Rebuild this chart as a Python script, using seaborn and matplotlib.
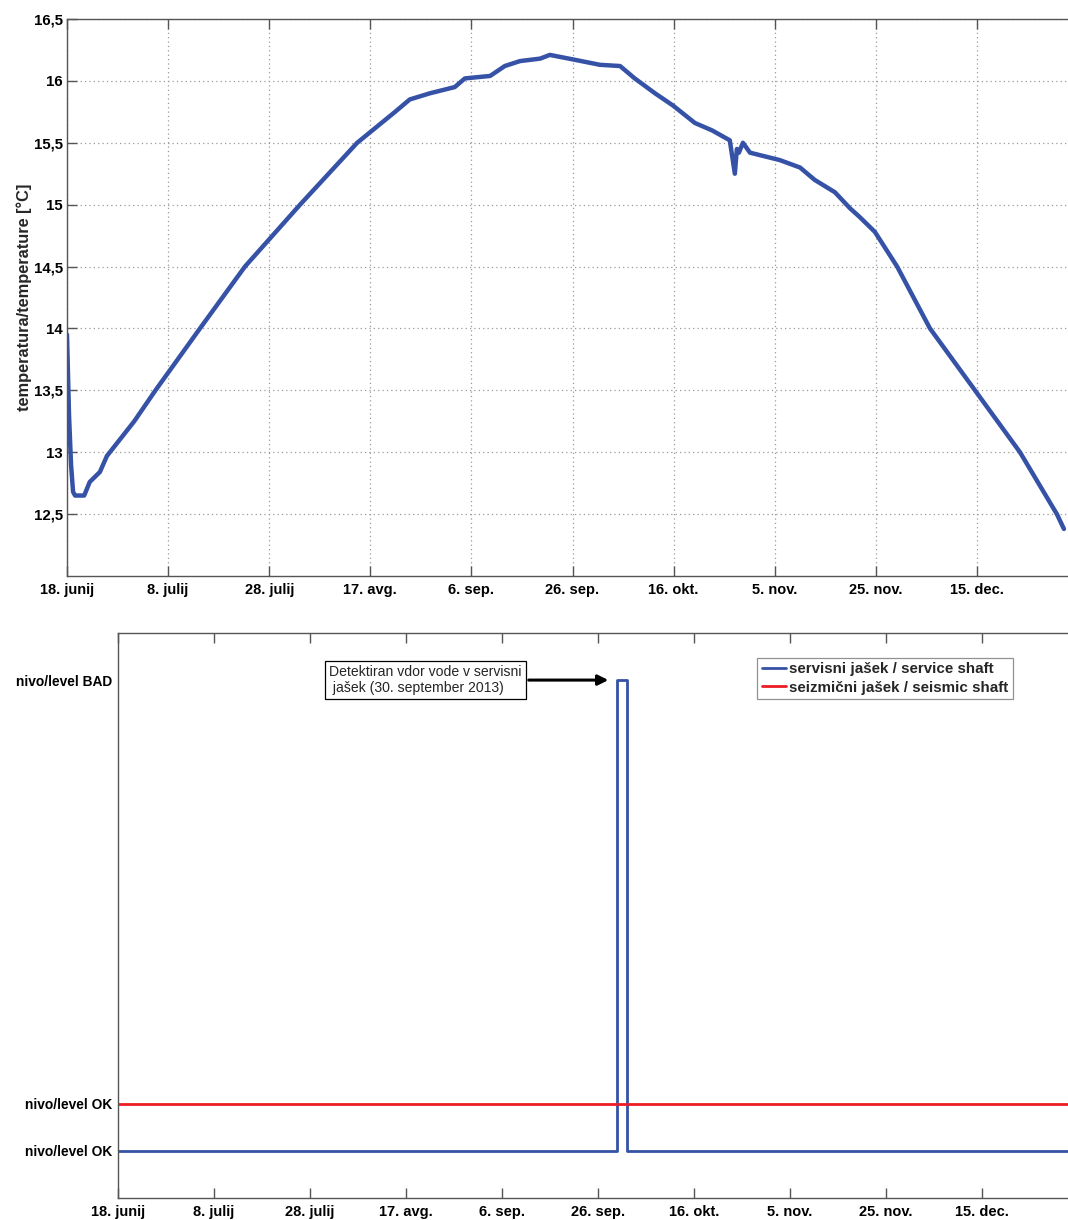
import matplotlib
matplotlib.use("Agg")
import matplotlib.pyplot as plt
import numpy as np
import pandas as pd
import seaborn as sns

# --- data -----------------------------------------------------------------
# days counted from 18 June 2013
tick_days = [0, 20, 40, 60, 80, 100, 120, 140, 160, 180]
tick_labels = ["18. junij", "8. julij", "28. julij", "17. avg.", "6. sep.",
               "26. sep.", "16. okt.", "5. nov.", "25. nov.", "15. dec."]

temp_days = [0, 0.4, 0.8, 1.2, 1.6, 3.4, 4.5, 6.5, 7.9, 13.3, 17.5,
             26.3, 35.2, 46.1, 57.4, 64.9, 67.8, 71.8, 76.7,
             78.7, 83.7, 86.6, 89.6, 93.6, 95.5, 100.5, 105.4, 109.4, 112.3,
             116.3, 119.9, 124.2, 127.6, 131.1, 132.1, 132.5, 132.9, 133.7,
             135.1, 141.0, 145.0, 147.9, 151.9, 154.9, 156.8, 159.8, 164.2,
             170.7, 179.6, 188.5, 195.8, 197.2]
temp_values = [13.95, 13.3, 12.9, 12.68, 12.65, 12.65, 12.76, 12.84, 12.97,
               13.25, 13.5, 14.0, 14.5, 15.0, 15.5,
               15.75, 15.85, 15.9, 15.95, 16.02, 16.04, 16.12, 16.16, 16.18,
               16.21, 16.17, 16.13, 16.12, 16.02, 15.9, 15.8, 15.66, 15.6,
               15.52, 15.25, 15.45, 15.42, 15.5, 15.42, 15.36, 15.3, 15.2,
               15.1, 14.97, 14.9, 14.78, 14.5, 14.0, 13.5, 13.0, 12.5, 12.38]

temp_ticks = [12.5, 13, 13.5, 14, 14.5, 15, 15.5, 16, 16.5]
temp_tick_labels = ["12,5", "13", "13,5", "14", "14,5", "15", "15,5", "16", "16,5"]

service_days = [0, 104, 104, 106, 106, 198]
service_level = [0, 0, 1, 1, 0, 0]
seismic_days = [0, 198]
seismic_level = [0.1, 0.1]
level_ticks = [0, 0.1, 1]
level_labels = ["nivo/level OK", "nivo/level OK", "nivo/level BAD"]

BLUE = "#3552a6"
RED = "#ec1c24"
SPINE = "#555555"

sns.set_theme(style="ticks")
plt.rcParams["font.family"] = ["Liberation Sans", "DejaVu Sans"]

W, H = 1068, 1220
fig = plt.figure(figsize=(W / 100, H / 100), dpi=100)


def frame(ax):
    for side in ["left", "top", "bottom"]:
        ax.spines[side].set_color(SPINE)
        ax.spines[side].set_linewidth(1.0)
    ax.spines["right"].set_visible(False)
    ax.tick_params(axis="both", direction="in", length=7, width=1.0,
                   color=SPINE, labelcolor="black", pad=4)
    ax.tick_params(axis="x", top=True, bottom=True, pad=5, labelsize=10.5)
    ax.set_xlim(0, 198)
    ax.set_xticks(tick_days)
    ax.set_xticklabels(tick_labels, fontweight="bold")


# --- upper panel: temperature -------------------------------------------
ax1 = fig.add_axes([67 / W, 1 - 576 / H, (W - 67) / W, (576 - 19) / H])
temp_df = pd.DataFrame({"day": temp_days, "temp": temp_values})
sns.lineplot(data=temp_df, x="day", y="temp", ax=ax1, color=BLUE,
             linewidth=3.2, estimator=None, sort=False)
frame(ax1)
ax1.set_ylim(12, 16.5)
ax1.set_yticks(temp_ticks)
ax1.set_yticklabels(temp_tick_labels, fontweight="bold")
ax1.tick_params(axis="y", pad=3, labelsize=10.8)
ax1.grid(True, linestyle=(0, (1, 2.5)), color="#9a9a9a", linewidth=0.9)
ax1.set_xlabel("")
ax1.set_ylabel("temperatura/temperature [°C]", fontsize=11.8,
               fontweight="bold", labelpad=1)

# --- lower panel: water level sensors -----------------------------------
ax2 = fig.add_axes([118 / W, 1 - 1198 / H, (W - 118) / W, (1198 - 633) / H])
level_df = pd.concat([
    pd.DataFrame({"day": service_days, "level": service_level,
                  "sensor": "servisni jašek / service shaft"}),
    pd.DataFrame({"day": seismic_days, "level": seismic_level,
                  "sensor": "seizmični jašek / seismic shaft"}),
], ignore_index=True)
sns.lineplot(data=level_df, x="day", y="level", hue="sensor", ax=ax2,
             palette=[BLUE, RED], linewidth=2.0, estimator=None, sort=False)
frame(ax2)
ax2.set_ylim(-0.1, 1.1)
ax2.set_yticks(level_ticks)
ax2.set_yticklabels(level_labels, fontweight="bold")
ax2.tick_params(axis="y", length=0, pad=4, labelsize=9.9)
ax2.set_xlabel("")
ax2.set_ylabel("")

leg = ax2.legend(loc="upper right", bbox_to_anchor=(0.950, 0.970),
                 frameon=True, fancybox=False, handlelength=1.6,
                 handletextpad=0.2, borderpad=0.3, labelspacing=0.3,
                 prop={"weight": "bold", "size": 10.9})
leg.get_frame().set_edgecolor("#777777")
leg.get_frame().set_linewidth(0.9)

ax2.annotate("Detektiran vdor vode v servisni\n jašek (30. september 2013)",
             xy=(102.2, 1.0), xytext=(64.0, 1.0), ha="center", va="center",
             multialignment="left", fontsize=10.1,
             bbox=dict(boxstyle="square,pad=0.3", fc="white", ec="black",
                       lw=0.9),
             arrowprops=dict(arrowstyle="-|>,head_length=0.6,head_width=0.3",
                             color="black", lw=2.2, shrinkA=2, shrinkB=0))

fig.savefig("out.png", dpi=100)
